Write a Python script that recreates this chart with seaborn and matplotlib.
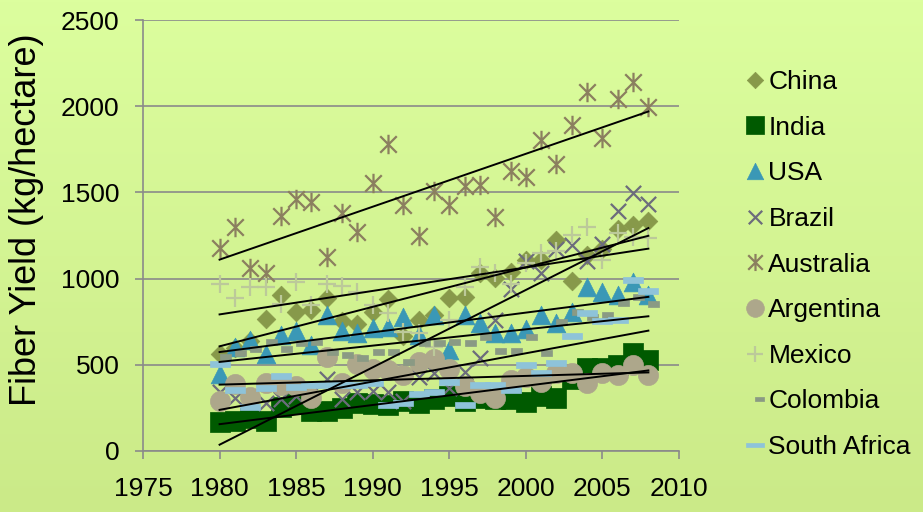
import numpy as np
import pandas as pd
import matplotlib
matplotlib.use("Agg")
import matplotlib.pyplot as plt
from matplotlib.path import Path
import seaborn as sns

# ---- data: cotton fibre yield, kg/hectare, 1980-2008 ----
years = list(range(1980, 2009))
china = [560, 600, 640, 765, 905, 808, 818, 890, 755, 735, 808, 880, 665, 760, 790,
         890, 895, 1030, 1005, 1040, 1105, 1110, 1225, 985, 1135, 1170, 1290, 1310, 1335]
india = [170, 175, 190, 175, 255, 270, 230, 230, 250, 280, 270, 265, 290, 280, 300,
         320, 290, 305, 300, 300, 285, 320, 305, 420, 480, 480, 500, 570, 525]
usa = [445, 605, 645, 560, 675, 695, 615, 790, 695, 685, 712, 720, 780, 675, 790,
       588, 790, 740, 685, 685, 705, 790, 740, 808, 953, 925, 905, 982, 905]
brazil = [340, 310, 300, 280, 300, 320, 330, 420, 300, 340, 350, 340, 290, 430, 450,
          365, 460, 540, 760, 940, 1100, 1030, 1170, 1195, 1100, 1200, 1395, 1495, 1430]
australia = [1176, 1301, 1060, 1031, 1363, 1463, 1446, 1127, 1379, 1272, 1556, 1779, 1425, 1247, 1510,
             1425, 1537, 1543, 1359, 1626, 1591, 1804, 1663, 1891, 2080, 1817, 2042, 2142, 1997]
argentina = [288, 390, 315, 392, 383, 375, 305, 547, 392, 505, 478, 470, 440, 515, 535,
             478, 375, 335, 305, 410, 430, 402, 451, 451, 392, 451, 441, 499, 441]
mexico = [970, 890, 950, 953, 855, 978, 847, 970, 958, 920, 847, 800, 692, 683, 605,
          760, 953, 1070, 1035, 968, 1090, 1150, 1160, 1255, 1300, 1110, 1262, 1243, 1234]
colombia = [547, 567, 590, 634, 590, 625, 634, 576, 557, 538, 576, 576, 518, 625, 625,
            634, 625, 663, 582, 582, 663, 567, 750, 805, 780, 789, 860, 895, 850]
south_africa = [503, 354, 257, 364, 433, 373, 383, 383, 383, 383, 392, 267, 280, 330, 344,
                402, 267, 383, 383, 354, 499, 451, 512, 667, 800, 755, 760, 990, 930]

countries = ["China", "India", "USA", "Brazil", "Australia",
             "Argentina", "Mexico", "Colombia", "South Africa"]
series = [china, india, usa, brazil, australia, argentina, mexico, colombia, south_africa]

df = pd.DataFrame({
    "Year": np.tile(years, len(countries)),
    "Yield": np.concatenate(series),
    "Country": np.repeat(countries, len(years)),
})

# ---- marker shapes ----
MOVE, LINE = Path.MOVETO, Path.LINETO
star = Path([(0, -1), (0, 1), (-0.85, -0.85), (0.85, 0.85), (-0.85, 0.85), (0.85, -0.85)],
            [MOVE, LINE, MOVE, LINE, MOVE, LINE])
short_dash = Path([(0, -0.24), (1, -0.24), (1, 0.24), (0, 0.24), (0, -0.24)],
                  [MOVE, LINE, LINE, LINE, Path.CLOSEPOLY])
long_dash = Path([(-1, -0.28), (1, -0.28), (1, 0.28), (-1, 0.28), (-1, -0.28)],
                 [MOVE, LINE, LINE, LINE, Path.CLOSEPOLY])

styles = {
    "China":        dict(marker="D", size=9.5, color="#87994A", lw=0.5),
    "India":        dict(marker="s", size=14, color="#005A00", lw=0.5),
    "USA":          dict(marker="^", size=13.5, color="#3A98B6", lw=0.5),
    "Brazil":       dict(marker="x", size=11, color="#6C6C7C", lw=1.6),
    "Australia":    dict(marker=star, size=14, color="#8B7F5F", lw=1.6),
    "Argentina":    dict(marker="o", size=14.5, color="#ADA78B", lw=0.5),
    "Mexico":       dict(marker="+", size=12.5, color="#BCC99A", lw=1.6),
    "Colombia":     dict(marker=short_dash, size=15.5, color="#8A9A84", lw=0.5),
    "South Africa": dict(marker=long_dash, size=14.5, color="#8EC3D9", lw=0.5),
}

plt.rcParams["font.family"] = ["Liberation Sans", "DejaVu Sans"]

W, H = 923, 512
fig = plt.figure(figsize=(W / 100, H / 100), dpi=100)

# soft lime gradient behind everything
bg = fig.add_axes([0, 0, 1, 1], zorder=-10)
grad = np.linspace(0, 1, 256)[:, None]
top = np.array([0xDC, 0xFE, 0x9E]) / 255
bot = np.array([0xCB, 0xEA, 0x88]) / 255
img = top[None, None, :] * (1 - grad[..., None]) + bot[None, None, :] * grad[..., None]
bg.imshow(img, aspect="auto", extent=[0, 1, 0, 1])
bg.set_axis_off()

ax = fig.add_axes([143 / W, 1 - 451 / H, (679 - 143) / W, (451 - 20) / H])
ax.set_facecolor("none")

for name in countries:
    st = styles[name]
    sub = df[df["Country"] == name]
    sns.scatterplot(data=sub, x="Year", y="Yield", marker=st["marker"], s=st["size"] ** 2,
                    color=st["color"], edgecolor=st["color"], linewidth=st["lw"],
                    ax=ax, label=name, legend=False, zorder=3)

# linear trend for each country
for name in countries:
    sub = df[df["Country"] == name]
    sns.regplot(data=sub, x="Year", y="Yield", scatter=False, ci=None, truncate=True,
                color="black", line_kws=dict(lw=1.4, zorder=4), ax=ax)

grid_c = "#8A8A8A"
ax.set_xlim(1975, 2010)
ax.set_ylim(0, 2500)
ax.set_xticks(range(1975, 2011, 5))
ax.set_yticks(range(0, 2501, 500))
ax.yaxis.grid(True, color=grid_c, lw=1.2)
ax.xaxis.grid(False)
ax.set_axisbelow(True)
for side in ("top", "right"):
    ax.spines[side].set_visible(False)
for side in ("left", "bottom"):
    ax.spines[side].set_color(grid_c)
    ax.spines[side].set_linewidth(1.2)
ax.tick_params(axis="both", direction="out", length=6, width=1.2, color=grid_c,
               labelsize=19, labelcolor="black")
ax.tick_params(axis="y", pad=11)
ax.tick_params(axis="x", pad=12.5)
ax.set_xlabel("")
ax.set_ylabel("")

fig.text(27 / W, 1 - 220 / H, "Fiber Yield (kg/hectare)", rotation=90,
         ha="center", va="center", fontsize=26)

leg = ax.legend(loc="upper left", bbox_to_anchor=(742 / W, 1 - 70 / H),
                bbox_transform=fig.transFigure, frameon=False, fontsize=19,
                handlelength=1.0, handletextpad=0.0, labelspacing=0.82,
                borderpad=0, borderaxespad=0, markerscale=0.88,
                scatterpoints=1, scatteryoffsets=[0.5])

fig.savefig("out.png", dpi=100)
